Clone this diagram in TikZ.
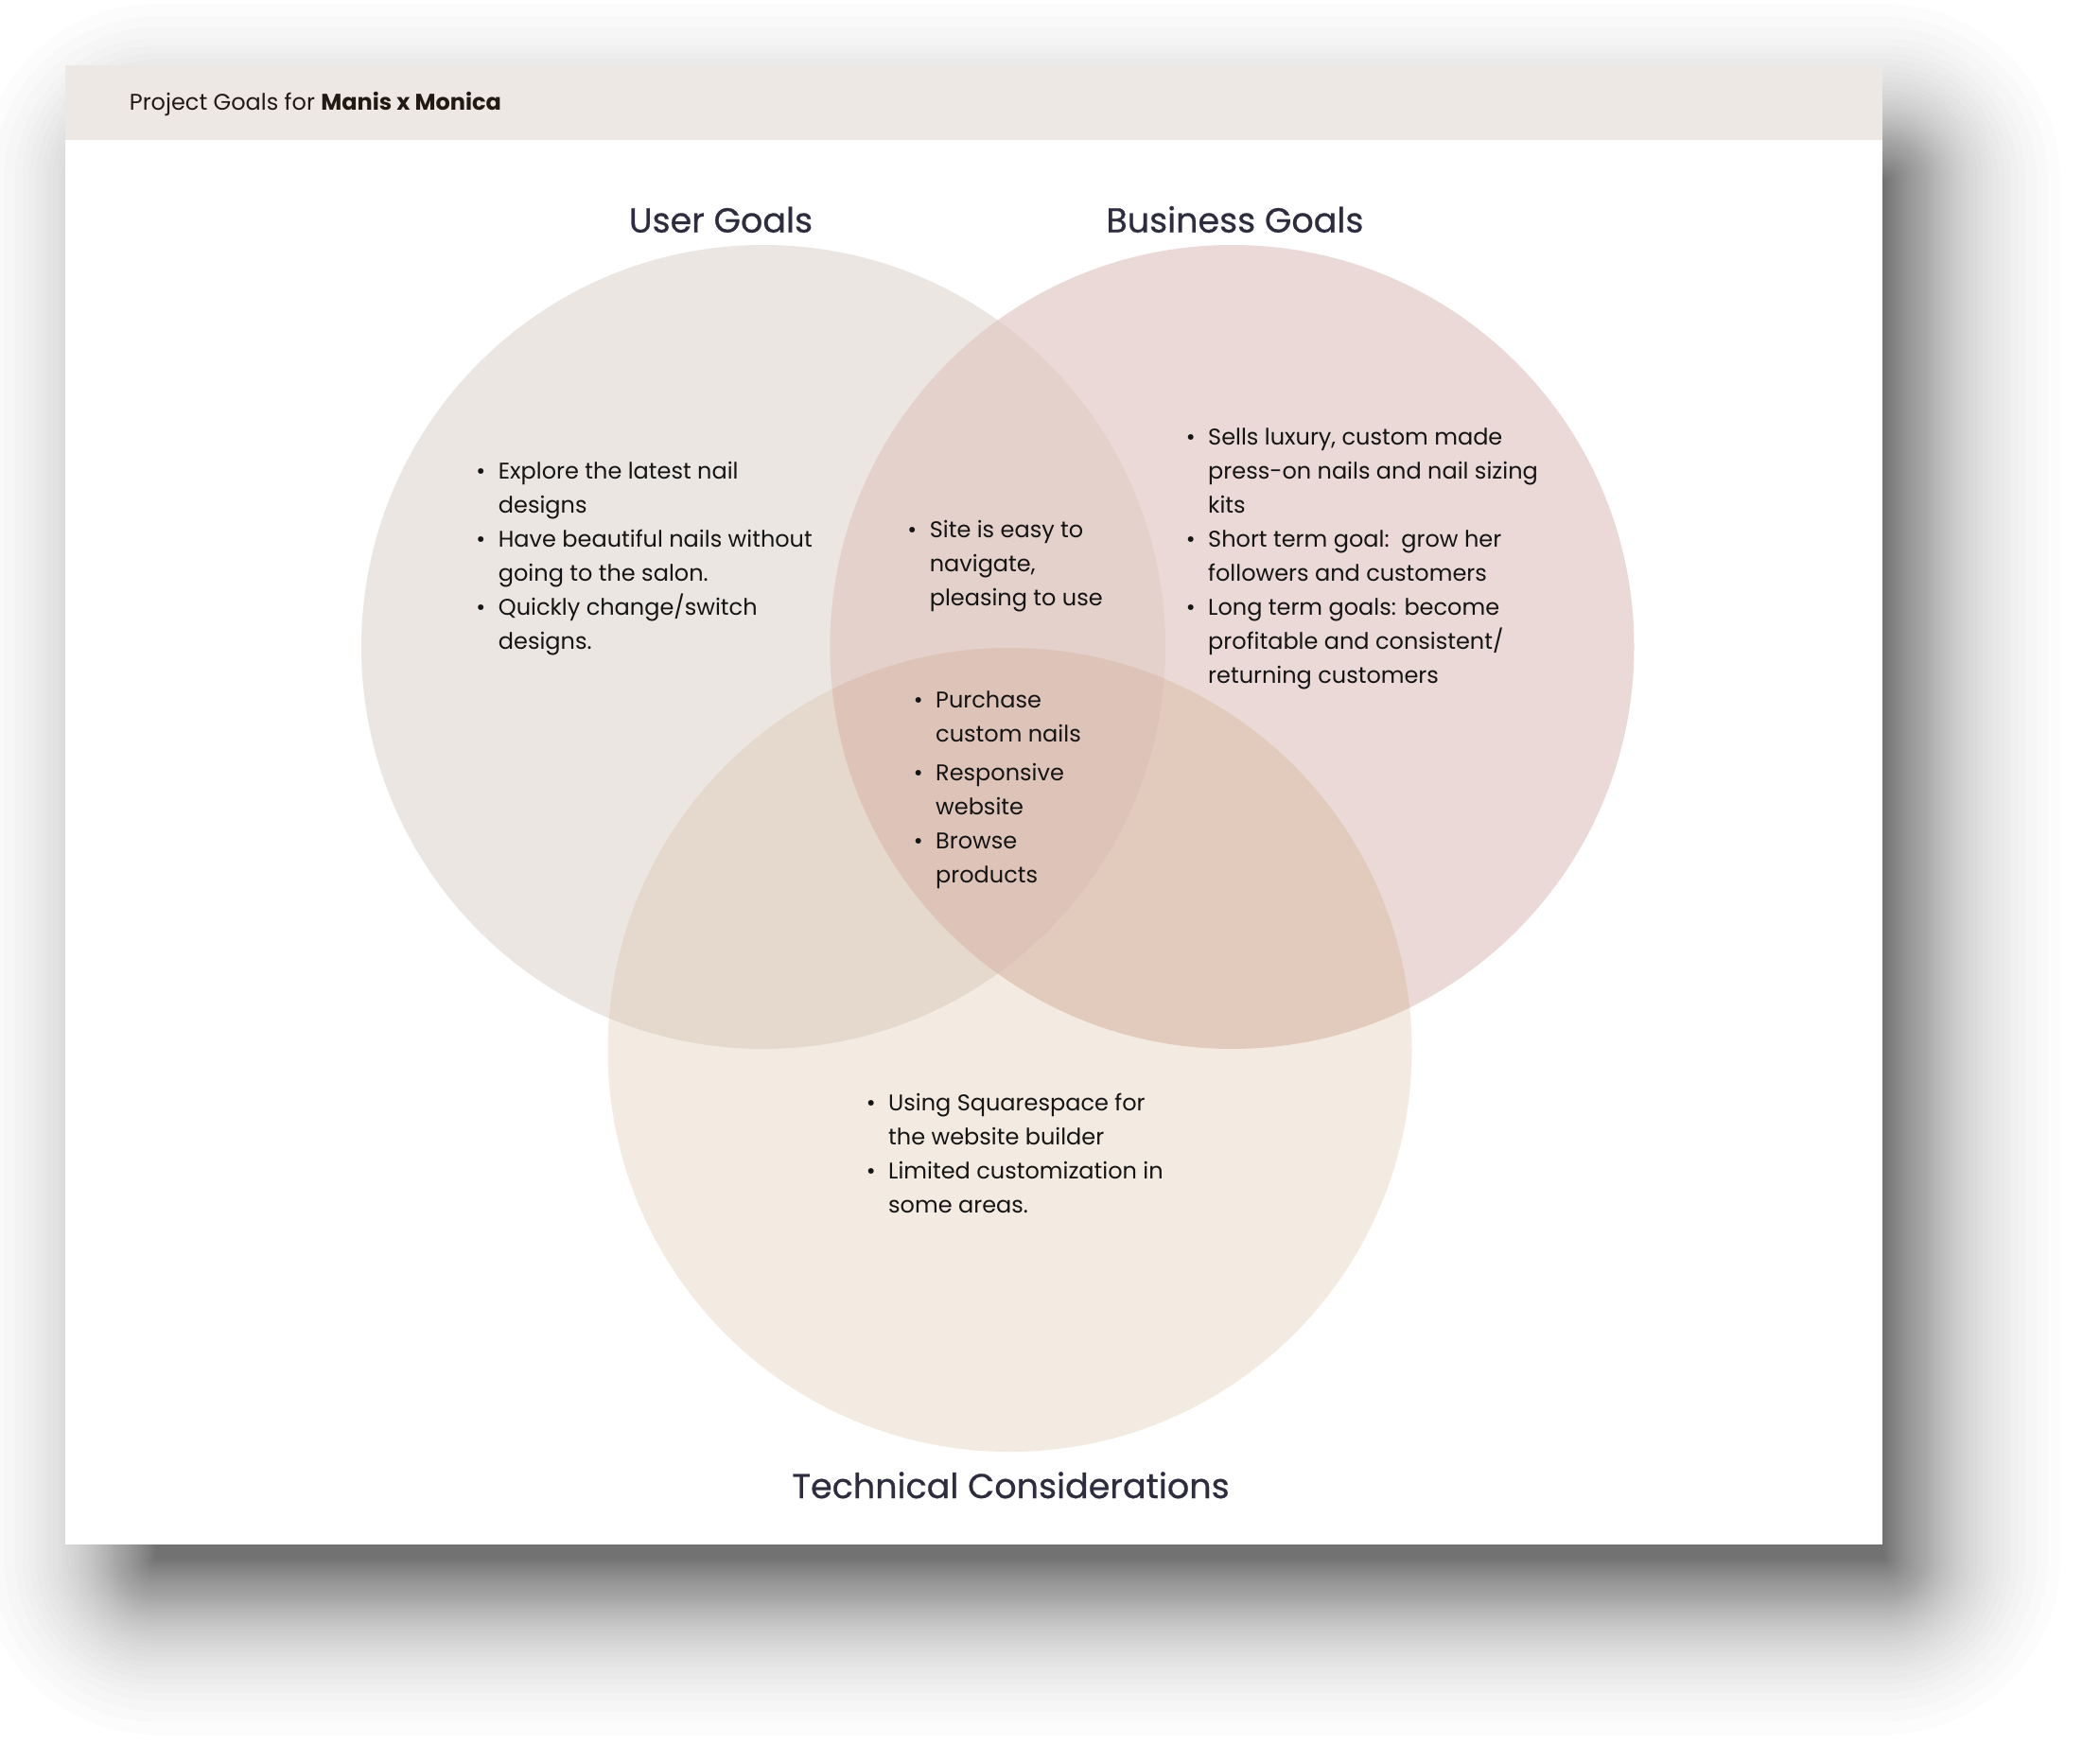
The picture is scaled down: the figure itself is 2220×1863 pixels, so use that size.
\documentclass[tikz,border=0pt]{standalone}
\usepackage{fontspec}
\setmainfont{Poppins}
\definecolor{hdr}{HTML}{EDE8E4}
\definecolor{cA}{HTML}{ECE6E2}
\definecolor{cB}{HTML}{EAD9D6}
\definecolor{cC}{HTML}{F3EBE1}
\definecolor{cAB}{HTML}{E4D1CB}
\definecolor{cAC}{HTML}{E5D9CD}
\definecolor{cBC}{HTML}{E2CBBD}
\definecolor{cABC}{HTML}{DEC4B8}
\definecolor{ttl}{HTML}{2D2D3F}
\definecolor{hdrtxt}{HTML}{221912}
\definecolor{bodytxt}{HTML}{141414}
\newcommand{\bl}{\strut\makebox[37pt][c]{\textbullet}}
\newcommand{\ind}{\strut\hspace*{37pt}}
\tikzset{
  listtxt/.style={anchor=north west, inner sep=0pt, align=left, text=bodytxt,
    font=\fontsize{24}{36}\selectfont},
  ttlnode/.style={anchor=base, inner sep=0pt, text=ttl,
    font=\fontsize{36.5}{42}\selectfont\addfontfeatures{FakeBold=0.6}},
}
\begin{document}
\begin{tikzpicture}[x=1pt,y=-1pt]
\useasboundingbox (0,0) rectangle (2220,1863);
\fill[white] (0,0) rectangle (2220,1863);
% soft drop shadow: exponentially spaced layers
\foreach \j in {5,...,60}{
  \pgfmathsetmacro\rr{-75*ln(\j/60)}
  \pgfmathsetmacro\rc{max(\rr,0.5)}
  \fill[black, fill opacity=0.0105, rounded corners=\rc pt]
    (165-\rr,190-\rr) rectangle (1992+\rr,1648+\rr);
}
% card
\fill[white] (69,69) rectangle (1990,1633);
\fill[hdr] (69,69) rectangle (1990,148);
\node[anchor=base west, inner sep=0pt, text=hdrtxt, font=\fontsize{24}{28}\selectfont]
  (header) at (136.7,116.7) {Project Goals for \textbf{Manis x Monica}};
% circles
\coordinate (cu) at (807,684);
\coordinate (cb) at (1302.5,684);
\coordinate (ct) at (1067.5,1110);
\fill[cA] (cu) circle[radius=425pt];
\fill[cB] (cb) circle[radius=425pt];
\fill[cC] (ct) circle[radius=425pt];
\begin{scope}
  \clip (cu) circle[radius=425pt];
  \fill[cAB] (cb) circle[radius=425pt];
\end{scope}
\begin{scope}
  \clip (cu) circle[radius=425pt];
  \fill[cAC] (ct) circle[radius=425pt];
\end{scope}
\begin{scope}
  \clip (cb) circle[radius=425pt];
  \fill[cBC] (ct) circle[radius=425pt];
\end{scope}
\begin{scope}
  \clip (cu) circle[radius=425pt];
  \clip (cb) circle[radius=425pt];
  \fill[cABC] (ct) circle[radius=425pt];
\end{scope}
% titles
\node[ttlnode] (usertitle) at (762,245.7) {User Goals};
\node[ttlnode] (biztitle) at (1305.4,245.7) {Business Goals};
\node[ttlnode] (techtitle) at (1068.5,1584) {Technical Considerations};
% lists
\node[listtxt] (userlist) at (489.7,481) {%
  \bl Explore the latest nail\\
  \ind designs\\
  \bl Have beautiful nails without\\
  \ind going to the salon.\\
  \bl Quickly change/switch\\
  \ind designs.};
\node[listtxt] (ublist) at (945.6,543) {%
  \bl Site is easy to\\
  \ind navigate,\\
  \ind pleasing to use};
\node[listtxt] (bizlist) at (1240,445.5) {%
  \bl Sells luxury, custom made\\
  \ind press-on nails and nail sizing\\
  \ind kits\\
  \bl Short term goal:\ \ grow her\\
  \ind followers and customers\\
  \bl Long term goals: become\\
  \ind profitable and consistent/\\
  \ind returning customers};
\node[listtxt] (alllist) at (952,723) {%
  \bl Purchase\\
  \ind custom nails\\[5pt]
  \bl Responsive\\
  \ind website\\
  \bl Browse\\
  \ind products};
\node[listtxt] (techlist) at (902,1149) {%
  \bl Using Squarespace for\\
  \ind the website builder\\
  \bl Limited customization in\\
  \ind some areas.};
\end{tikzpicture}
\end{document}
